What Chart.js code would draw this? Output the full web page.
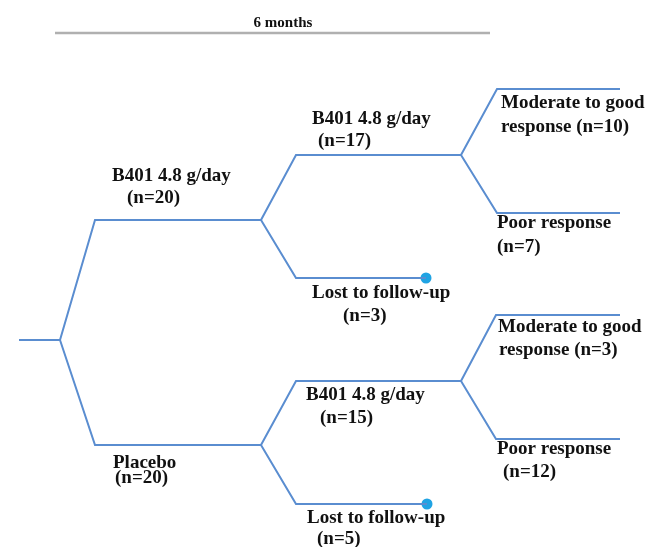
<!DOCTYPE html>
<html>
<head>
<meta charset="utf-8">
<script src="https://cdn.jsdelivr.net/npm/chart.js@4"></script>
<style>
  html, body { margin: 0; padding: 0; background: #fff; }
  #wrap { width: 660px; height: 547px; }
</style>
</head>
<body>
<div id="wrap"><canvas id="tree" width="660" height="547"></canvas></div>
<script>
// tree branches, in chart units (x across, y down)
const timeline = [{x: 55, y: 33}, {x: 490, y: 33}];
const rootStem = [{x: 19, y: 340}, {x: 60, y: 340}];
const armB401 = [{x: 60, y: 340}, {x: 95, y: 220}, {x: 261, y: 220}];
const armPlacebo = [{x: 60, y: 340}, {x: 95, y: 445}, {x: 261, y: 445}];
const b401Stay = [{x: 261, y: 220}, {x: 296, y: 155}, {x: 461, y: 155}];
const b401Lost = [{x: 261, y: 220}, {x: 296, y: 278}, {x: 426, y: 278}];
const b401Good = [{x: 461, y: 155}, {x: 497, y: 89}, {x: 620, y: 89}];
const b401Poor = [{x: 461, y: 155}, {x: 497, y: 213}, {x: 620, y: 213}];
const placeboStay = [{x: 261, y: 445}, {x: 296, y: 381}, {x: 461, y: 381}];
const placeboLost = [{x: 261, y: 445}, {x: 296, y: 504}, {x: 427, y: 504}];
const placeboGood = [{x: 461, y: 381}, {x: 496, y: 315}, {x: 620, y: 315}];
const placeboPoor = [{x: 461, y: 381}, {x: 496, y: 439}, {x: 620, y: 439}];
const lostDots = [{x: 426, y: 278}, {x: 427, y: 504}];

// text labels: two lines each
const labelLine1 = ["B401 4.8 g/day", "B401 4.8 g/day", "Moderate to good", "Poor response",
  "Lost to follow-up", "Moderate to good", "B401 4.8 g/day", "Poor response",
  "Placebo", "Lost to follow-up"];
const labelLine2 = ["(n=20)", "(n=17)", "response (n=10)", "(n=7)", "(n=3)",
  "response (n=3)", "(n=15)", "(n=12)", "(n=20)", "(n=5)"];
// where each line starts (x) and sits (y centre)
const line1Pos = [
  {x: 112, y: 176}, {x: 312, y: 119}, {x: 501, y: 103}, {x: 497, y: 223},
  {x: 312, y: 293}, {x: 498, y: 327}, {x: 306, y: 395}, {x: 497, y: 449},
  {x: 113, y: 463}, {x: 307, y: 518}
];
const line2Pos = [
  {x: 127, y: 198}, {x: 318, y: 141}, {x: 501, y: 127}, {x: 497, y: 247},
  {x: 343, y: 316}, {x: 499, y: 350}, {x: 320, y: 418}, {x: 503, y: 472},
  {x: 115, y: 478}, {x: 317, y: 539}
];

const lineColor = '#5a8dd0';
const branchSets = [rootStem, armB401, armPlacebo, b401Stay, b401Lost, b401Good,
  b401Poor, placeboStay, placeboLost, placeboGood, placeboPoor].map(d => ({
  data: d,
  showLine: true,
  borderColor: lineColor,
  borderWidth: 2,
  pointRadius: 0,
  tension: 0
}));

const textPlugin = {
  id: 'treeText',
  afterDatasetsDraw(chart) {
    const { ctx, scales } = chart;
    const px = v => scales.x.getPixelForValue(v);
    const py = v => scales.y.getPixelForValue(v);
    ctx.save();
    ctx.fillStyle = '#111';
    ctx.textBaseline = 'middle';
    ctx.textAlign = 'center';
    ctx.font = 'bold 15px "Liberation Serif", "DejaVu Serif", serif';
    ctx.fillText('6 months', px(283), py(23));
    ctx.textAlign = 'left';
    ctx.font = 'bold 19px "Liberation Serif", "DejaVu Serif", serif';
    labelLine1.forEach((t, i) => {
      ctx.fillText(t, px(line1Pos[i].x), py(line1Pos[i].y));
      ctx.fillText(labelLine2[i], px(line2Pos[i].x), py(line2Pos[i].y));
    });
    ctx.restore();
  }
};

new Chart(document.getElementById('tree'), {
  type: 'scatter',
  data: {
    datasets: [
      {
        data: timeline, showLine: true, borderColor: '#b0b0b0',
        borderWidth: 2.5, pointRadius: 0
      },
      ...branchSets,
      {
        data: lostDots, showLine: false, pointRadius: 5.5,
        backgroundColor: '#1fa3e3', borderColor: '#1fa3e3', borderWidth: 0
      }
    ]
  },
  options: {
    responsive: false,
    animation: false,
    layout: { padding: 0, autoPadding: false },
    scales: {
      x: { type: 'linear', display: false, min: 0, max: 660 },
      y: { type: 'linear', display: false, min: 0, max: 547, reverse: true }
    },
    plugins: {
      legend: { display: false },
      tooltip: { enabled: false }
    }
  },
  plugins: [textPlugin]
});
</script>
</body>
</html>
